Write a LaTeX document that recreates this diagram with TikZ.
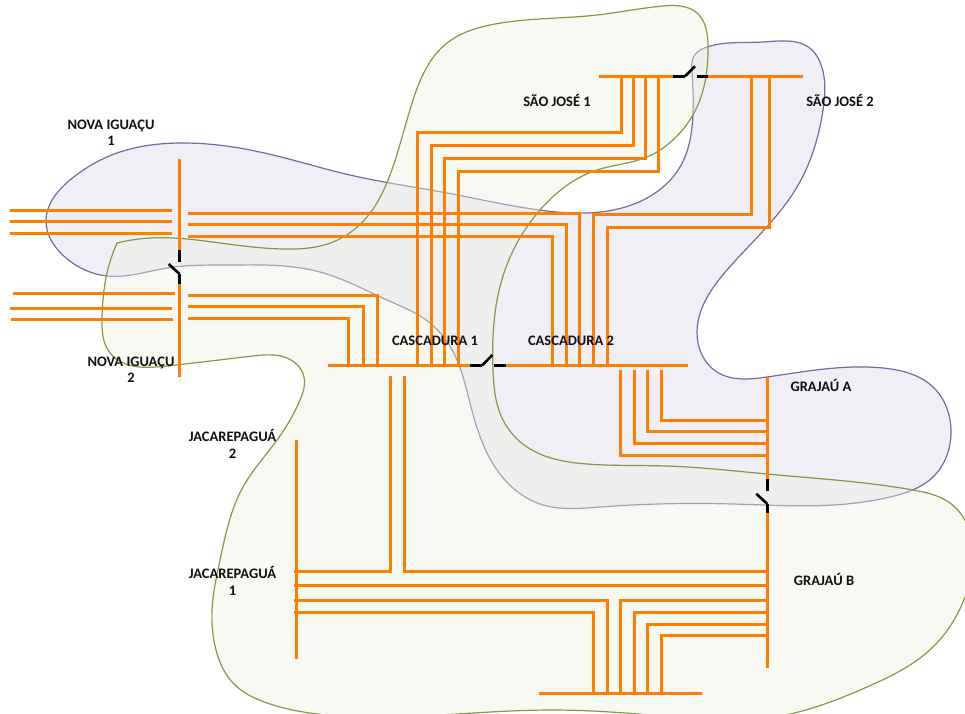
\documentclass[tikz,border=0pt]{standalone}
\usepackage{fontspec}
\setmainfont{Carlito}
\usetikzlibrary{hobby}
\definecolor{feedercol}{HTML}{FF8000}
\definecolor{zoneAline}{HTML}{8064A2}
\definecolor{zoneAfill}{HTML}{F1EFF6}
\definecolor{zoneBline}{HTML}{7F9C45}
\definecolor{zoneBfill}{RGB}{238,241,225}
\definecolor{labelcol}{HTML}{111111}
\begin{document}
\begin{tikzpicture}[x=1pt, y=-1pt,
                    feeder/.style={draw=feedercol, line width=3pt},
                    breaker/.style={draw=black, line width=3.4pt},
                    blade/.style={draw=black, line width=2.6pt},
                    zoneA/.style={draw=zoneAline, line width=1.2pt, fill=zoneAfill},
                    zoneB/.style={draw=zoneBline, line width=1.2pt, fill=zoneBfill, fill opacity=.4},
                    barname/.style={text=labelcol, font=\bfseries\fontsize{14.5}{16.3}\selectfont, align=center, inner sep=0pt}]
  \clip (0,0) rectangle (965,713);
  % areas
  \path[zoneA, use Hobby shortcut, closed=true] (46,220) .. (70,180) .. (120,152) .. (180,143) .. (260,152) .. (350,175)
     .. (447,193) .. (547,211) .. (587,213) .. (647,198) .. (680,167) .. (693,113) .. (692,72) .. (694,56) .. (707,47) .. (763,42) .. (812,50) .. (819,60) .. (823,110)
     .. (797,187) .. (727,270) .. (697,333) .. (717,372) .. (767,377) .. (883,368) .. (933,387) .. (951,433) .. (933,477) .. (890,497) .. (833,505)
     .. (733,504) .. (600,507) .. (540,504) .. (497,470) .. (470,403) .. (457,360) .. (430,323) .. (387,300) .. (320,272) .. (227,265) .. (167,268)
     .. (107,276) .. (66,258);
  \path[zoneB, use Hobby shortcut] (117,243) .. (150,238) .. (220,243) .. (283,249) .. (333,242) .. (367,217) .. (388,180)
     .. (413,100) .. (447,43) .. (490,25) .. (597,15) .. (663,6) .. (697,13) .. (708,47) .. (697,107) .. (673,140) .. (647,157) .. (597,170) .. (540,210)
     .. (505,270) .. (493,370) .. (503,420) .. (527,447) .. (587,464) .. (667,466) .. (767,474) .. (913,490) .. (950,503) .. (972,540) .. (965,597)
     .. (933,647) .. (867,687) .. (780,716) .. (650,715) .. (550,710) .. (457,714) .. (327,715) .. (267,703) .. (233,683) .. (216,650)
     .. (212,610) .. (220,560) .. (243,487) .. (277,440) .. (300,400) .. (304,377) .. (287,358) .. (253,356) .. (167,366) .. (133,366) .. (110,353) .. (102,317) .. (107,273) .. (117,243) -- cycle;
  % bus ends and taps
  \foreach \tap/\x/\y in {caswest/328/365.5, casA/470/365.5, casB/505.7/365.5, caseast/688/365.5,
      casa/417.7/365.5, casb/431.3/365.5, casc/444.3/365.5, casd/458.3/365.5,
      case/552.3/365.5, casf/566.3/365.5, casg/579.3/365.5, cash/593.3/365.5, casi/607.3/365.5,
      casp/348.3/365.5, casq/363.3/365.5, casr/377.3/365.5,
      sjwest/599/76.3, sjA/672.7/76.3, sjB/708/76.3, sjeast/802.7/76.3,
      sja/621.3/76.3, sjb/633.7/76.3, sjc/645.7/76.3, sjd/658.3/76.3, sje/751.3/76.3, sjf/769/76.3,
      lowwest/539/693.3, loweast/701.7/693.3,
      lowa/593/693.3, lowb/607/693.3, lowc/620/693.3, lowd/634/693.3, lowe/647/693.3, lowf/661/693.3,
      niAtop/179.5/159, niAend/179.5/250, niBtop/179.5/284, niBend/179.5/376.7,
      jptop/296/440, jpend/296/659,
      graAtop/767.3/377, graAend/767.3/479, graBtop/767.3/512.7, graBend/767.3/668,
      nifa/188/213.3, nifb/188/224.3, nifc/188/236.3, nifd/188/295, nife/188/306.7, niff/188/318.3,
      casdowna/390.3/376, casdownb/404.3/376, casdownc/620.3/370, casdownd/634.3/370, casdowne/647.7/370, casdownf/661.7/370,
      grafa/767.3/420.3, grafb/767.3/431.3, grafc/767.3/443.3, grafd/767.3/455.3,
      grbfa/767.3/571.7, grbfb/767.3/585.3, grbfc/767.3/600.4, grbfd/767.3/612.3, grbfe/767.3/624.7, grbff/767.3/635.7,
      jpfa/294/571.3, jpfb/294/585.3, jpfc/294/600.5, jpfd/294/612.3}
     \coordinate (\tap) at (\x,\y);
  % bars
  \foreach \from/\to in {caswest/casA, casB/caseast, sjwest/sjA, sjB/sjeast, lowwest/loweast,
      niAtop/niAend, niBtop/niBend, jptop/jpend, graAtop/graAend, graBtop/graBend}
     \draw[feeder] (\from) -- (\to);
  % feeders with two bends
  \foreach \from/\to/\level in {casa/sja/132.3, casb/sjb/145.3, casc/sjc/158.3, casd/sjd/171.3, cash/sje/214.3, casi/sjf/227.7}
     \draw[feeder] (\from) -- (\from |- 0,\level) -| (\to);
  % feeders with one bend
  \foreach \from/\to in {casg/nifa, casf/nifb, case/nifc, casr/nifd, casq/nife, casp/niff,
      casdownf/grafa, casdowne/grafb, casdownd/grafc, casdownc/grafd,
      casdowna/jpfa, casdownb/grbfa, lowb/jpfc, lowa/jpfd,
      lowc/grbfc, lowd/grbfd, lowe/grbfe, lowf/grbff}
     \draw[feeder] (\from) |- (\to);
  \draw[feeder] (jpfb) -- (grbfb);
  % open ends on the left
  \foreach \name/\xa/\xb/\y in {a/10/172/210.3, b/10/172/221.3, c/10/172/233.3, d/13/175/293.3, e/10/172/308.3, f/11/173/319.3} {
     \coordinate (left\name) at (\xa,\y);
     \coordinate (stop\name) at (\xb,\y);
     \draw[feeder] (left\name) -- (stop\name);
  }
  % breakers
  \coordinate (brkAa) at (482,365.5);
  \coordinate (brkAb) at (492.3,355);
  \coordinate (brkAc) at (494,365.5);
  \draw[breaker] (casA) -- (brkAa);
  \draw[blade] (brkAa) -- (brkAb);
  \draw[breaker] (brkAc) -- (casB);
  \coordinate (brkBa) at (685,76.3);
  \coordinate (brkBb) at (695,66.3);
  \coordinate (brkBc) at (697.3,76.3);
  \draw[breaker] (sjA) -- (brkBa);
  \draw[blade] (brkBa) -- (brkBb);
  \draw[breaker] (brkBc) -- (sjB);
  \coordinate (brkCa) at (179.5,262);
  \coordinate (brkCb) at (168.7,264);
  \coordinate (brkCc) at (179.5,274);
  \draw[breaker] (niAend) -- (brkCa);
  \draw[blade] (brkCb) -- (brkCc);
  \draw[breaker] (brkCc) -- (niBtop);
  \coordinate (brkDa) at (767.3,490.7);
  \coordinate (brkDb) at (756.3,493.7);
  \coordinate (brkDc) at (767.3,504);
  \draw[breaker] (graAend) -- (brkDa);
  \draw[blade] (brkDb) -- (brkDc);
  \draw[breaker] (brkDc) -- (graBtop);
  % names
  \node[barname] (ni1) at (111,132.5) {NOVA IGUAÇU\\1};
  \node[barname] (ni2) at (131,369.5) {NOVA IGUAÇU\\2};
  \node[barname] (jp2) at (232.5,444) {JACAREPAGUÁ\\2};
  \node[barname] (jp1) at (232.5,581) {JACAREPAGUÁ\\1};
  \node[barname] (sj1) at (557,100) {SÃO JOSÉ 1};
  \node[barname] (sj2) at (840,100) {SÃO JOSÉ 2};
  \node[barname] (cas1) at (435,341) {CASCADURA 1};
  \node[barname] (cas2) at (571,341) {CASCADURA 2};
  \node[barname] (graA) at (821,385) {GRAJAÚ A};
  \node[barname] (graB) at (824,579.5) {GRAJAÚ B};
\end{tikzpicture}
\end{document}
